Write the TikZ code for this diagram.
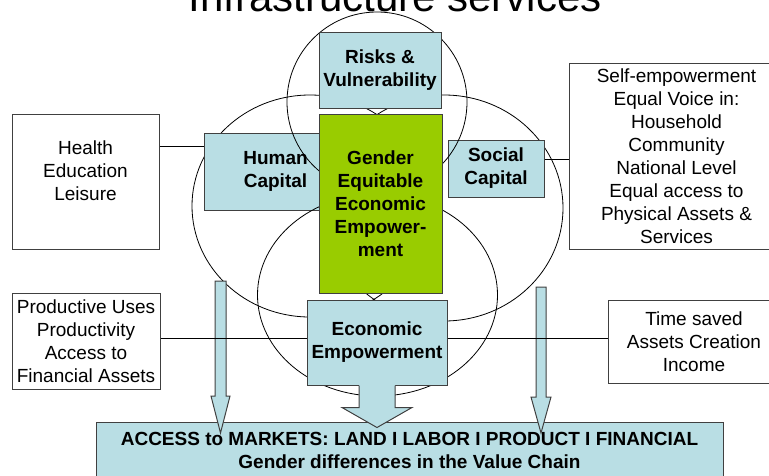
\documentclass[tikz,border=0pt]{standalone}
\usepackage{fontspec}
\setmainfont{Liberation Sans}
\usetikzlibrary{calc}
\definecolor{lightaqua}{RGB}{185,222,228}
\definecolor{leafgreen}{RGB}{153,204,0}
\definecolor{edgegray}{RGB}{64,64,64}
\begin{document}
\begin{tikzpicture}[x=1pt,y=-1pt,
	ring/.style={draw=black,line width=0.8pt},
	capbox/.style={draw=edgegray,line width=1pt,fill=lightaqua,inner sep=0pt,align=center,font=\fontsize{19}{23}\selectfont\bfseries},
	notebox/.style={draw=edgegray,line width=1pt,fill=white,inner sep=0pt,align=center,font=\fontsize{19}{23}\selectfont},
	blockarrow/.style={draw=edgegray,line width=1pt,fill=lightaqua,line join=miter},
	link/.style={draw=black,line width=1pt}]
	\useasboundingbox (0,0) rectangle (769,475);
	% title (cut at the top)
	\node[anchor=base,font=\fontsize{42}{46}\selectfont] (title) at (395,11) {Infrastructure services};
	% the two side rings
	\draw[ring] (310,206) ellipse [x radius=118,y radius=111];
	\draw[ring] (444,208) ellipse [x radius=119,y radius=113];
	\node[capbox,minimum width=143,minimum height=77] (hc) at (275.5,171.5) {Human\\Capital};
	\node[capbox,minimum width=96,minimum height=57] (sc) at (496,168.5) {Social\\Capital};
	% top ring and bottom ring
	\draw[ring] (377,102) circle [radius=90];
	\draw[ring] (377.5,295) ellipse [x radius=120,y radius=101];
	\node[capbox,minimum width=140,minimum height=85] (ee) at (377,342.5) {Economic\\Empowerment};
	\node[capbox,minimum width=122,minimum height=76] (risk) at (380,70) {Risks \&\\Vulnerability};
	\node[capbox,fill=leafgreen,minimum width=123,minimum height=179] (geee) at (380.5,203.5) {Gender\\Equitable\\Economic\\Empower-\\ment};
	% outer notes
	\node[notebox,minimum width=147,minimum height=135] (health) at (85.5,181.5) {\parbox[c][82pt][t]{140pt}{\centering Health\\Education\\Leisure}};
	\node[notebox,minimum width=215,minimum height=186] (self) at (676.5,156) {Self-empowerment\\Equal Voice in:\\Household\\Community\\National Level\\Equal access to\\Physical Assets \&\\Services};
	\node[notebox,minimum width=148,minimum height=96] (prod) at (86,341) {Productive Uses\\Productivity\\Access to\\Financial Assets};
	\node[notebox,minimum width=172,minimum height=83] (time) at (694,341.5) {Time saved\\Assets Creation\\Income};
	% markets
	\node[capbox,minimum width=627,minimum height=56] (market) at (409.5,450) {ACCESS to MARKETS: LAND I LABOR I PRODUCT I FINANCIAL\\Gender differences in the Value Chain};
	% arrow under economic empowerment
	\fill[lightaqua] ([shift={(-18pt,1pt)}]ee.south) -- ++(0,23) -- ++(-17,0) -- ++(35,20) -- ++(35,-20) -- ++(-17,0) -- ++(0,-23) -- cycle;
	\draw[blockarrow,fill=none] ([xshift=-18pt]ee.south) -- ++(0,22) -- ++(-17,0) -- ++(35,20) -- ++(35,-20) -- ++(-17,0) -- ++(0,-22);
	% slim arrows
	\coordinate (lsrc) at (220.5,281);
	\coordinate (rsrc) at (541,287);
	\draw[blockarrow] (lsrc) ++(-5.5,0) -- ++(0,115) -- ++(-4,0) -- ++(9.5,37) -- ++(9.5,-37) -- ++(-4,0) -- ++(0,-115) -- cycle;
	\draw[blockarrow] (rsrc) ++(-5,0) -- ++(0,110) -- ++(-5,0) -- ++(10,36) -- ++(10,-36) -- ++(-5,0) -- ++(0,-110) -- cycle;
	% links
	\coordinate (hcl) at ([yshift=25.5pt]hc.west);
	\coordinate (scl) at ([yshift=9.5pt]sc.east);
	\coordinate (eel) at ([yshift=4.5pt]ee.west);
	\draw[link] (hcl) -- (hcl -| health.east);
	\draw[link] (scl) -- (scl -| self.west);
	\draw[link] (eel) -- (eel -| prod.east);
	\draw[link] (eel -| ee.east) -- (eel -| time.west);
\end{tikzpicture}
\end{document}
